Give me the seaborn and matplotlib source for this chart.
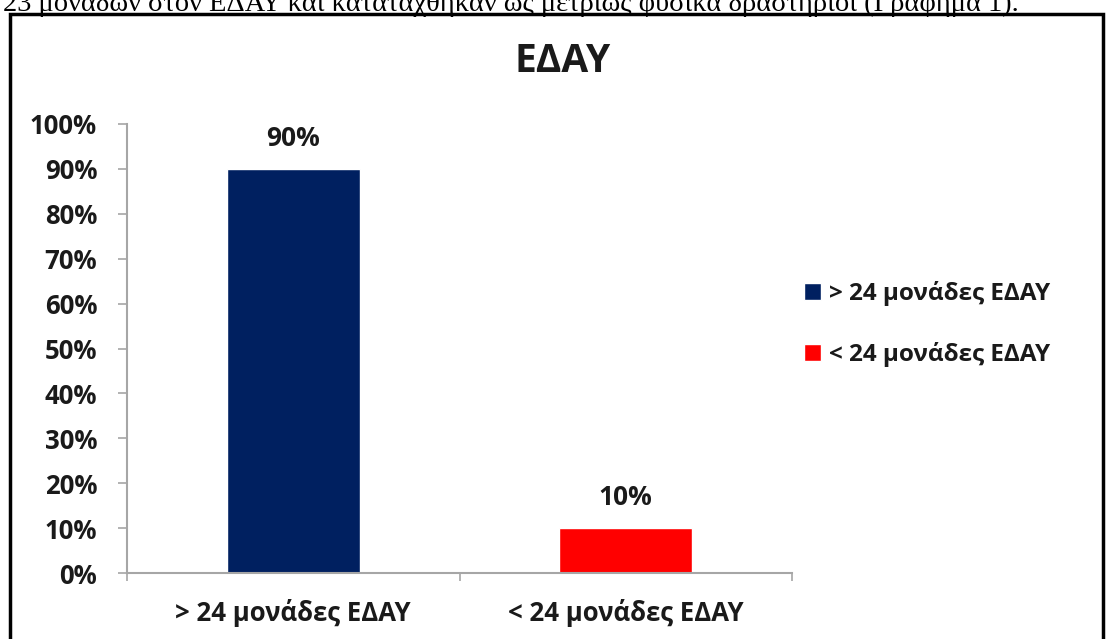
import matplotlib
matplotlib.use("Agg")
import matplotlib.pyplot as plt
import seaborn as sns
import pandas as pd
from matplotlib.patches import Rectangle

# data
categories = ["> 24 μονάδες ΕΔΑΥ", "< 24 μονάδες ΕΔΑΥ"]
shares = [0.90, 0.10]
bar_colors = ["#002060", "#FF0000"]
y_ticks = [i / 10 for i in range(11)]
y_tick_labels = [f"{i * 10}%" for i in range(11)]
title = "ΕΔΑΥ"
page_text = "23 μονάδων στον ΕΔΑΥ και κατατάχθηκαν ως μετρίως φυσικά δραστήριοι (Γράφημα 1)."

sns.set_theme(style="white")
plt.rcParams["font.family"] = ["Open Sans", "DejaVu Sans"]

df = pd.DataFrame({"group": categories, "share": shares})

fig = plt.figure(figsize=(11.06, 6.39), dpi=100)

# page text cut by the screenshot + chart frame
fig.text(0.003, 1 - 11 / 639, page_text, family=["Liberation Serif", "DejaVu Serif"],
         fontsize=20.5, va="baseline", ha="left", color="black")
fig.patches.append(Rectangle((10 / 1106, -0.05), 1093 / 1106, 1.05 - 14 / 639,
                             transform=fig.transFigure, fill=False,
                             edgecolor="black", linewidth=2.5))

ax = fig.add_axes([127 / 1106, 1 - 573 / 639, 665 / 1106, 449 / 639])
sns.barplot(data=df, x="group", y="share", hue="group", palette=bar_colors,
            width=0.4, saturation=1, ax=ax, legend=True)

for cont, v in zip(ax.containers, shares):
    ax.bar_label(cont, labels=[f"{v:.0%}"], padding=12, fontsize=19,
                 fontweight="bold", color="#1a1a1a")

ax.set_ylim(0, 1.0)
ax.set_xlim(-0.5, 1.5)
ax.set_yticks(y_ticks)
ax.set_yticklabels(y_tick_labels)
ax.set_xticks([-0.5, 0.5, 1.5], minor=True)
ax.tick_params(axis="x", which="major", length=0, pad=19, labelsize=18.5)
ax.tick_params(axis="x", which="minor", length=6, width=1.2, color="#a6a6a6",
               direction="out", bottom=True)
ax.tick_params(axis="y", length=6.5, width=1.2, color="#a6a6a6", direction="out",
               left=True, pad=15, labelsize=18.5)
for lab in ax.get_xticklabels() + ax.get_yticklabels():
    lab.set_fontweight("bold")
    lab.set_color("#1a1a1a")
ax.set_xlabel("")
ax.set_ylabel("")
fig.text(563 / 1106, 1 - 62 / 639, title, fontsize=28, fontweight="bold",
         color="#1a1a1a", ha="center", va="center")

for s in ["top", "right"]:
    ax.spines[s].set_visible(False)
for s in ["left", "bottom"]:
    ax.spines[s].set_color("#a6a6a6")
    ax.spines[s].set_linewidth(1.5)

leg = ax.legend(loc="center left", bbox_to_anchor=(782 / 1106, 1 - 324 / 639),
                bbox_transform=fig.transFigure, frameon=False, fontsize=17.5,
                handlelength=0.7, handleheight=0.7, handletextpad=0.35,
                labelspacing=1.45)
for t in leg.get_texts():
    t.set_fontweight("bold")
    t.set_color("#1a1a1a")

fig.savefig("out.png", dpi=100)
